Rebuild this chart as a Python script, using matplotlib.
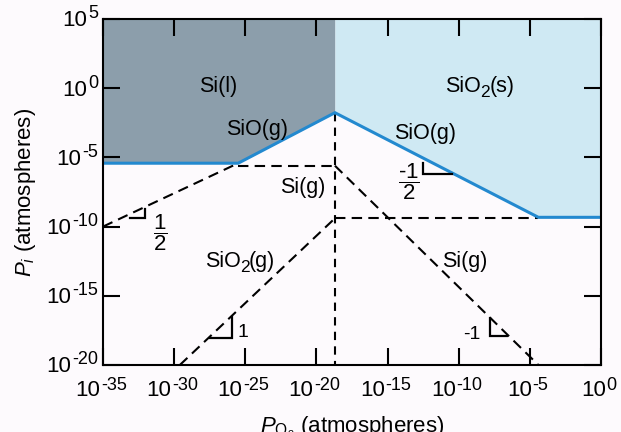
import numpy as np
import matplotlib
matplotlib.use("Agg")
import matplotlib.pyplot as plt
from matplotlib.transforms import offset_copy, blended_transform_factory

plt.rcParams.update({
    "font.family": "Liberation Sans",
    "mathtext.fontset": "custom",
    "mathtext.rm": "Liberation Sans",
    "mathtext.it": "Liberation Sans:italic",
    "mathtext.bf": "Liberation Sans:bold",
    "lines.scale_dashes": False,
})

# ---- data (log10 values) ----
x_decades = [-35, -30, -25, -20, -15, -10, -5, 0]
y_decades = [-20, -15, -10, -5, 0, 5]

# stability boundary (solid blue line)
boundary_logpo2 = [-35, -25.5, -18.7, -4.4, 0]
boundary_logpi = [-5.42, -5.42, -1.77, -9.33, -9.33]

# dashed partial-pressure lines
sio_ext_logpo2 = [-35, -25.5]
sio_ext_logpi = [-10.0, -5.42]
si_flat_logpo2 = [-25.5, -18.7]
si_flat_logpi = [-5.6, -5.6]
si_fall_logpo2 = [-18.7, -4.4]
si_fall_logpi = [-5.6, -20]
sio2_rise_logpo2 = [-29.6, -18.7]
sio2_rise_logpi = [-20, -9.4]
sio2_flat_logpo2 = [-18.7, -4.4]
sio2_flat_logpi = [-9.4, -9.4]
triple_logpo2 = -18.7
triple_vert_logpi = [-1.77, -20]

# slope markers (small right-angle triangles)
slope_marks = {
    "1/2":  ([-33.10, -32.05, -32.05], [-9.36, -9.36, -8.73]),
    "-1/2": ([-12.49, -12.49, -10.50], [-5.43, -6.20, -6.20]),
    "1":    ([-27.48, -25.96, -25.96], [-18.07, -18.07, -16.51]),
    "-1":   ([-7.80, -7.80, -6.64], [-16.63, -17.90, -17.90]),
}

# ---- colours ----
bg = "#fdfafd"
dark = "#8c9eab"
light = "#cfe9f3"
blue = "#2389cf"

fig = plt.figure(figsize=(6.21, 4.32), dpi=100, facecolor=bg)
ax = fig.add_axes([103 / 621, 1 - 365 / 432, 498 / 621, 346 / 432])
ax.set_facecolor(bg)
ax.set_xscale("log")
ax.set_yscale("log")
ax.set_xlim(10.0 ** x_decades[0], 10.0 ** x_decades[-1])
ax.set_ylim(10.0 ** y_decades[0], 10.0 ** y_decades[-1])
renderer = fig.canvas.get_renderer()

bx = 10.0 ** np.array(boundary_logpo2)
by = 10.0 ** np.array(boundary_logpi)
top = 10.0 ** y_decades[-1]
ax.fill_between(bx[:3], by[:3], top, color=dark, lw=0, zorder=1)
ax.fill_between(bx[2:], by[2:], top, color=light, lw=0, zorder=1)

dash = dict(color="black", lw=1.5, dashes=(7.5, 4.5), zorder=3)
for xs, ys in [(sio_ext_logpo2, sio_ext_logpi), (si_flat_logpo2, si_flat_logpi),
               (si_fall_logpo2, si_fall_logpi), (sio2_rise_logpo2, sio2_rise_logpi),
               (sio2_flat_logpo2, sio2_flat_logpi)]:
    ax.plot(10.0 ** np.array(xs), 10.0 ** np.array(ys), **dash)
ax.plot([10.0 ** triple_logpo2] * 2, 10.0 ** np.array(triple_vert_logpi),
        color="black", lw=1.5, dashes=(6, 4.5), zorder=3)

ax.plot(bx, by, color=blue, lw=2.2, zorder=4, solid_joinstyle="miter")

for key, (xs, ys) in slope_marks.items():
    ax.plot(10.0 ** np.array(xs), 10.0 ** np.array(ys), color="black", lw=1.6,
            zorder=4, solid_joinstyle="miter")


def compose(x, y, trans, pieces, anchor="center", dx=0.0, dy=0.0, gap=0.0):
    """Lay text pieces (string, size, rise_px) left to right on one baseline."""
    objs, widths = [], []
    for s, size, rise in pieces:
        tt = ax.text(x, y, s, fontsize=size, transform=trans, ha="left",
                     va="baseline", zorder=5, clip_on=False)
        widths.append(tt.get_window_extent(renderer).width)
        objs.append((tt, rise))
    total = sum(widths) + gap * (len(widths) - 1)
    cur = {"center": -total / 2, "right": -total, "left": 0.0}[anchor] + dx
    for (tt, rise), w in zip(objs, widths):
        tt.set_transform(offset_copy(trans, x=cur, y=dy + rise, units="dots"))
        cur += w + gap


def label(lx, ly, pieces, gap=-0.5):
    compose(10.0 ** lx, 10.0 ** ly, ax.transData, pieces, gap=gap)


R, S = 15.5, 12.5
label(-26.9, -0.27, [("Si(l)", R, 0)])
label(-24.15, -3.38, [("SiO(g)", R, 0)])
label(-20.98, -7.57, [("Si(g)", R, 0)])
label(-8.54, -0.27, [("SiO", R, 0), ("2", S, -5), ("(s)", R, 0)])
label(-12.4, -3.67, [("SiO(g)", R, 0)])
label(-25.37, -12.92, [("SiO", R, 0), ("2", S, -5), ("(g)", R, 0)])
label(-9.56, -12.92, [("Si(g)", R, 0)])
label(-25.16, -17.98, [("1", 14, 0)])
label(-9.1, -18.12, [("-1", 14, 0)])

ax.text(10.0 ** -31.0, 10.0 ** -10.43, r"$\dfrac{1}{2}$", fontsize=16,
        ha="center", va="center", zorder=5)
ax.text(10.0 ** -13.5, 10.0 ** -6.74, r"$\dfrac{\text{-}1}{2}$", fontsize=16,
        ha="center", va="center", zorder=5)

# ticks (labels composed as "10" + raised exponent)
ax.set_xticks(10.0 ** np.array(x_decades))
ax.set_yticks(10.0 ** np.array(y_decades))
ax.minorticks_off()
ax.tick_params(which="major", direction="in", length=12, width=1.5,
               top=True, right=True, labelbottom=False, labelleft=False)
for sp in ax.spines.values():
    sp.set_linewidth(1.5)
    sp.set_zorder(6)

TB, TS = 16, 13
xtrans = blended_transform_factory(ax.transData, ax.transAxes)
for d in x_decades:
    compose(10.0 ** d, 0, xtrans, [("10", TB, 0), ("%d" % d, TS, 6)],
            anchor="center", dx=-2, dy=-30.5, gap=0.5)
ytrans = blended_transform_factory(ax.transAxes, ax.transData)
for d in y_decades:
    compose(0, 10.0 ** d, ytrans, [("10", TB, 0), ("%d" % d, TS, 8)],
            anchor="right", dx=-5, dy=-7.5, gap=0.5)

ax.set_xlabel(r"$P_{\mathregular{O_2}}$ (atmospheres)", fontsize=16)
ax.set_ylabel(r"$P_i$ (atmospheres)", fontsize=16)
ax.xaxis.set_label_coords(0.5, -0.145)
ax.yaxis.set_label_coords(-0.13, 0.5)

fig.savefig("out.png", dpi=100, facecolor=bg)
